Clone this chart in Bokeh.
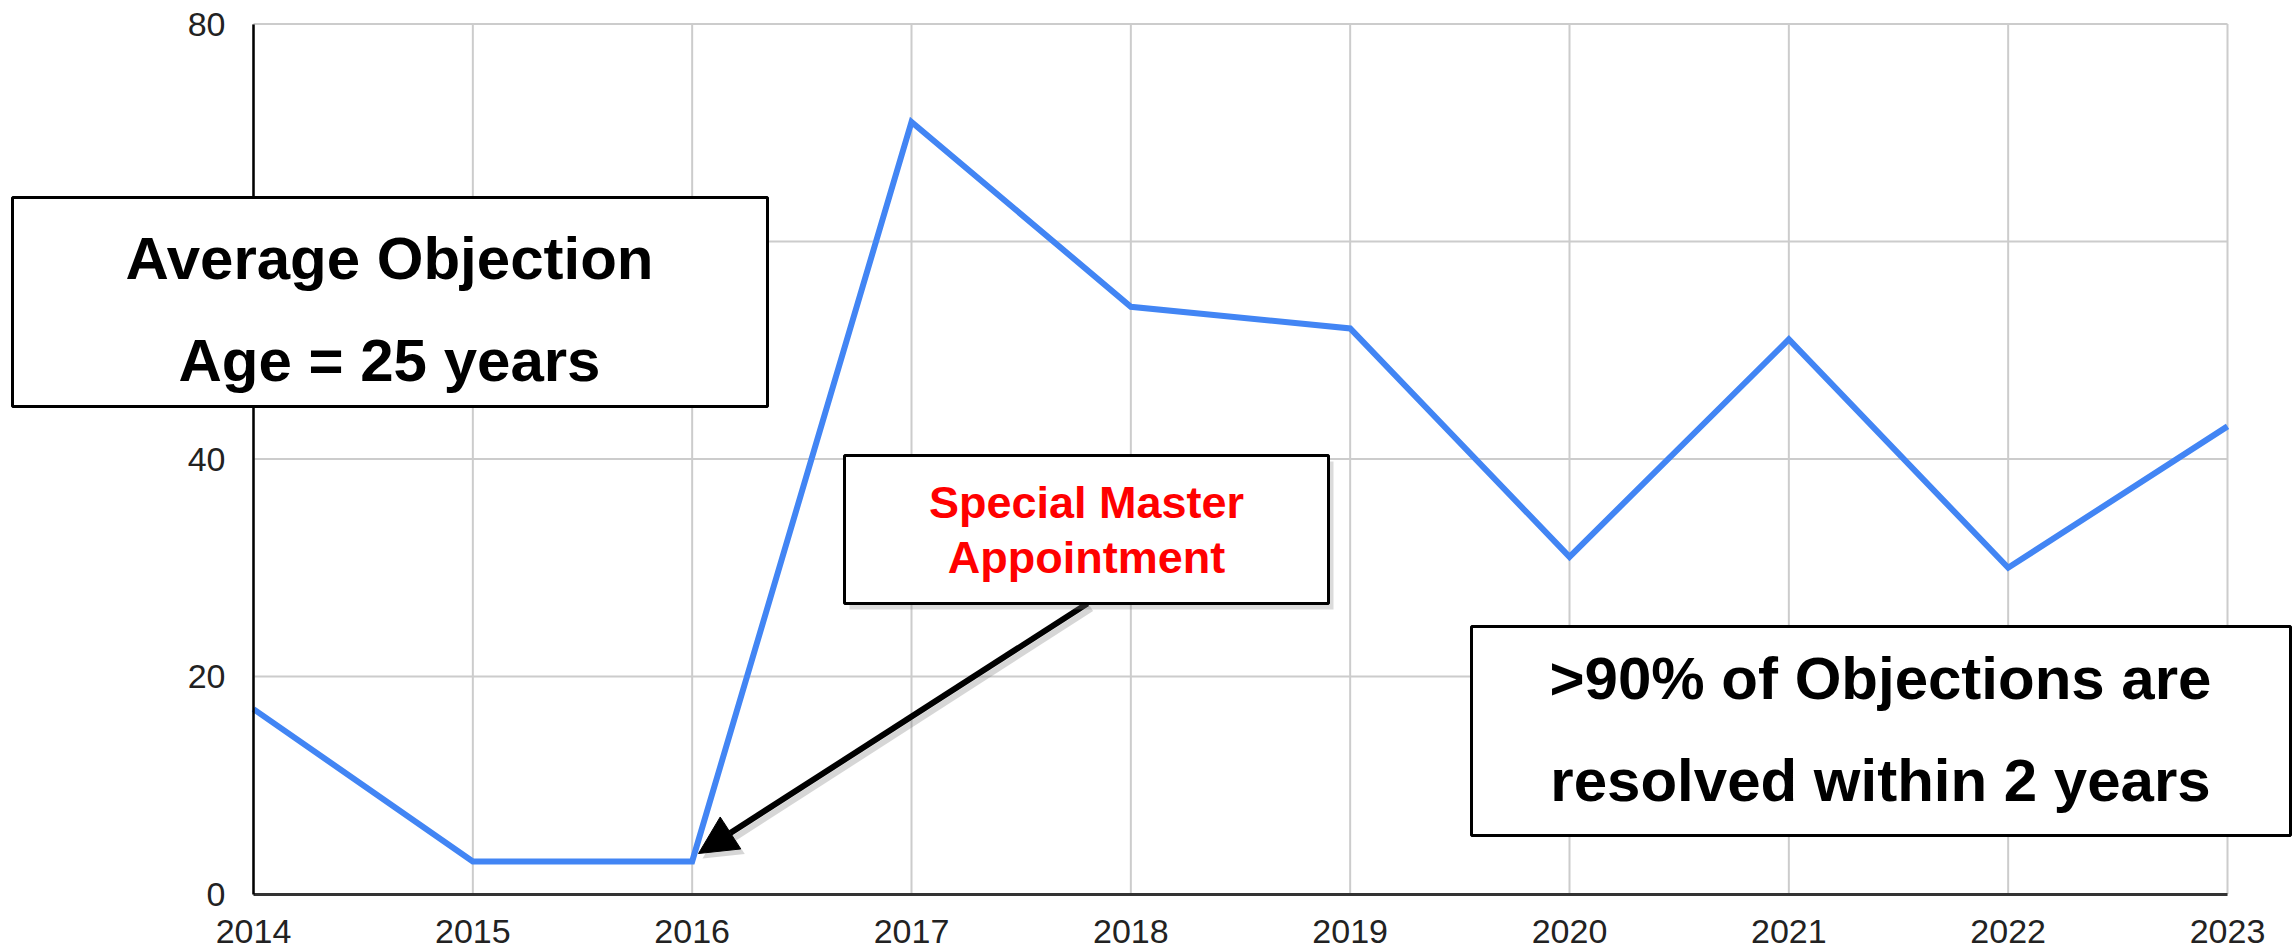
from bokeh.plotting import figure
from bokeh.models import BoxAnnotation, Label, Arrow, NormalHead, FixedTicker, Range1d
from bokeh.embed import file_html
from bokeh.resources import INLINE

# ---------------- data ----------------
years = [2014, 2015, 2016, 2017, 2018, 2019, 2020, 2021, 2022, 2023]
values = [17, 3, 3, 71, 54, 52, 31, 51, 30, 43]
y_ticks = [0, 20, 40, 60, 80]

box1_lines = ["Average Objection", "Age = 25 years"]
box2_lines = ["Special Master", "Appointment"]
box3_lines = [">90% of Objections are", "resolved within 2 years"]

# ---------------- layout ----------------
W, H = 2294, 950
# pixel positions of the plotting area (data extent) inside the canvas
PX_L, PX_R = 253.0, 2227.0     # x of first / last year
PY_B, PY_T = 893.5, 23.5       # y of 0 / 80
X0, X1 = years[0], years[-1]
Y0, Y1 = y_ticks[0], y_ticks[-1]
KX = (PX_R - PX_L) / (X1 - X0)
KY = (PY_B - PY_T) / (Y1 - Y0)
FONT = "Liberation Sans"
TEXT_SHIFT = -15  # vertical correction for label placement


def dx(px):
    return X0 + (px - PX_L) / KX


def dy(py):
    return Y0 + (PY_B - py) / KY


p = figure(
    width=W, height=H,
    x_range=Range1d(dx(0), dx(W)), y_range=Range1d(dy(H), dy(0)),
    output_backend="svg", toolbar_location=None,
    min_border_left=0, min_border_right=0, min_border_top=0, min_border_bottom=0,
)
p.outline_line_color = None
p.background_fill_color = "white"
p.border_fill_color = "white"
p.grid.visible = False

# grid lines over the data extent only
p.segment(x0=years, y0=[Y0] * len(years), x1=years, y1=[Y1] * len(years),
          line_color="#cccccc", line_width=2)
p.segment(x0=[X0] * len(y_ticks), y0=y_ticks, x1=[X1] * len(y_ticks), y1=y_ticks,
          line_color="#cccccc", line_width=2)

# axes placed inside the frame at the data origin
p.xaxis.fixed_location = Y0
p.yaxis.fixed_location = X0
p.xaxis.bounds = (X0, X1)
p.yaxis.bounds = (Y0, Y1)
p.xaxis.ticker = FixedTicker(ticks=years)
p.yaxis.ticker = FixedTicker(ticks=y_ticks)
for ax in (p.xaxis[0], p.yaxis[0]):
    ax.major_tick_line_color = None
    ax.minor_tick_line_color = None
    ax.major_label_text_font = FONT
    ax.major_label_text_font_size = "34px"
    ax.major_label_text_color = "#222222"
p.xaxis.axis_line_color = "#333333"
p.xaxis.axis_line_width = 3
p.xaxis.major_label_standoff = 20
p.yaxis.axis_line_color = "black"
p.yaxis.axis_line_width = 2.5
p.yaxis.major_label_standoff = 22

# data line
p.line(years, values, line_color="#4285f4", line_width=6, line_join="miter")

# ---------------- annotations ----------------
def add_box(l, r, t, b):
    p.add_layout(BoxAnnotation(left=dx(l), right=dx(r), top=dy(t), bottom=dy(b),
                               fill_color="white", fill_alpha=1.0,
                               line_color="black", line_width=3, line_alpha=1.0))


def add_text(lines, cx, baselines, size, color):
    for txt, by in zip(lines, baselines):
        p.add_layout(Label(x=dx(cx), y=dy(by + TEXT_SHIFT), text=txt, text_align="center",
                           text_baseline="alphabetic", text_font=FONT,
                           text_font_size=size, text_font_style="bold",
                           text_color=color))


# box 1
add_box(12, 767, 197, 406)
add_text(box1_lines, 389, [273, 375], "60px", "black")

# box 3
add_box(1471, 2290, 626, 835)
add_text(box3_lines, 1880, [693, 795], "60px", "black")

# arrow shadow + arrow
p.add_layout(Arrow(x_start=dx(1091), y_start=dy(608), x_end=dx(702), y_end=dy(858),
                   line_width=6, line_color="#777777", line_alpha=0.3,
                   end=NormalHead(size=38, fill_color="#777777", fill_alpha=0.3,
                                  line_color=None)))
p.add_layout(Arrow(x_start=dx(1087), y_start=dy(603), x_end=dx(698), y_end=dy(853),
                   line_width=6, line_color="black",
                   end=NormalHead(size=38, fill_color="black", line_color="black",
                                  line_width=1)))

# box 2 (with soft shadow)
p.add_layout(BoxAnnotation(left=dx(849), right=dx(1333), top=dy(461), bottom=dy(609),
                           fill_color="#888888", fill_alpha=0.3, line_color=None))
add_box(844, 1328, 455, 603)
add_text(box2_lines, 1086, [517, 572], "45px", "#ff0000")

with open("out.html", "w", encoding="utf-8") as f:
    f.write(file_html(p, INLINE, title="Average Objection Age"))
